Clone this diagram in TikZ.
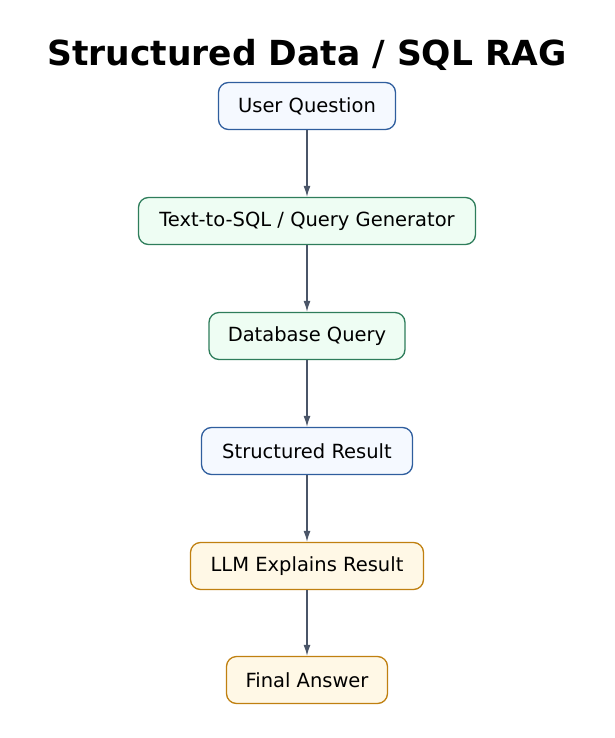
\documentclass[tikz,border=0pt]{standalone}
\usepackage{fontspec}
\setmainfont{DejaVu Sans}
\usetikzlibrary{arrows.meta}
\definecolor{bb}{HTML}{2F5E9E}\definecolor{bf}{HTML}{F5F9FF}
\definecolor{gb}{HTML}{2E7D5B}\definecolor{gf}{HTML}{EEFDF3}
\definecolor{ob}{HTML}{C08010}\definecolor{of}{HTML}{FFF8E6}
\definecolor{ar}{HTML}{4A5568}
\begin{document}
\begin{tikzpicture}[x=1pt,y=-1pt,
 box/.style={rounded corners=10pt,line width=1.3pt,minimum height=47pt,font=\fontsize{19.5}{22}\selectfont,inner sep=0pt},
 blue/.style={box,draw=bb,fill=bf},green/.style={box,draw=gb,fill=gf},orange/.style={box,draw=ob,fill=of},
 arr/.style={draw=ar,line width=1.3pt,-{Latex[length=11pt,width=7pt]}}]
\useasboundingbox (0,0) rectangle (614,738);
\node[font=\bfseries\fontsize{34.5}{38}\selectfont] (t) at (307,55) {Structured Data / SQL RAG};
\node[blue,minimum width=177pt] (a) at (307,106) {User Question};
\node[green,minimum width=337pt] (b) at (307,221) {Text-to-SQL / Query Generator};
\node[green,minimum width=196pt] (c) at (307,336) {Database Query};
\node[blue,minimum width=211pt] (d) at (307,451) {Structured Result};
\node[orange,minimum width=233pt] (e) at (307,566) {LLM Explains Result};
\node[orange,minimum width=161pt] (f) at (307,680) {Final Answer};
\draw[arr] (a)--(b); \draw[arr] (b)--(c); \draw[arr] (c)--(d); \draw[arr] (d)--(e); \draw[arr] (e)--(f);
\end{tikzpicture}
\end{document}
